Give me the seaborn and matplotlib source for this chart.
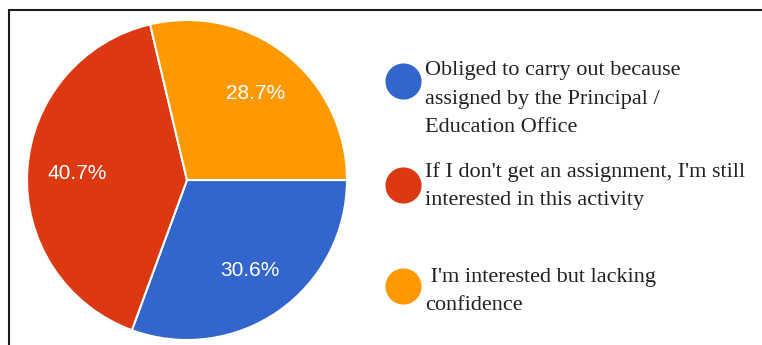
import matplotlib
matplotlib.use("Agg")
import matplotlib.pyplot as plt
from matplotlib.lines import Line2D
import seaborn as sns

# ---- data ----
categories = [
    "Obliged to carry out because\nassigned by the Principal /\nEducation Office",
    "If I don't get an assignment, I'm still\ninterested in this activity",
    " I'm interested but lacking\nconfidence",
]
shares = [30.6, 40.7, 28.7]
colors = ["#3366cc", "#dc3912", "#ff9900"]

sns.set_theme(style="white")
plt.rcParams["font.family"] = ["Liberation Sans", "DejaVu Sans"]

W, H = 762, 345
fig = plt.figure(figsize=(W / 100, H / 100), dpi=100)
fig.patch.set_facecolor("white")

# pie axes: centre (187,180) px from top-left, radius 160 px
cx, cy, r = 187, 180, 160
ax = fig.add_axes([(cx - r) / W, (H - cy - r) / H, 2 * r / W, 2 * r / H])
wedges, texts, autotexts = ax.pie(
    shares,
    colors=colors,
    startangle=0,
    counterclock=False,
    autopct="%.1f%%",
    pctdistance=0.69,
    wedgeprops=dict(edgecolor="white", linewidth=1.5),
    textprops=dict(color="white", fontsize=15, family=["Liberation Sans", "DejaVu Sans"]),
)
ax.set_aspect("equal")
ax.set_xlim(-1.0, 1.0)
ax.set_ylim(-1.0, 1.0)
ax.axis("off")

# frame lines (top and left)
fig.add_artist(Line2D([9 / W, 1], [1 - 10 / H, 1 - 10 / H], color="#1a1a1a", lw=1.5,
                      transform=fig.transFigure))
fig.add_artist(Line2D([9 / W, 9 / W], [0, 1 - 10 / H], color="#1a1a1a", lw=1.5,
                      transform=fig.transFigure))

# legend (manual layout)
marker_y = [81, 184.5, 285.5]
first_baseline = [75, 177, 282]
line_gap = 28.5
for lab, col, my, by in zip(categories, colors, marker_y, first_baseline):
    fig.add_artist(Line2D([402.5 / W], [1 - my / H], marker="o", markersize=25,
                          markerfacecolor=col, markeredgecolor=col, linestyle="none",
                          transform=fig.transFigure))
    for i, line in enumerate(lab.split("\n")):
        fig.text(425 / W, 1 - (by + i * line_gap) / H, line, ha="left", va="baseline",
                 fontsize=16, color="#222222",
                 family=["Liberation Serif", "DejaVu Serif"])

fig.savefig("out.png", dpi=100, facecolor="white")
